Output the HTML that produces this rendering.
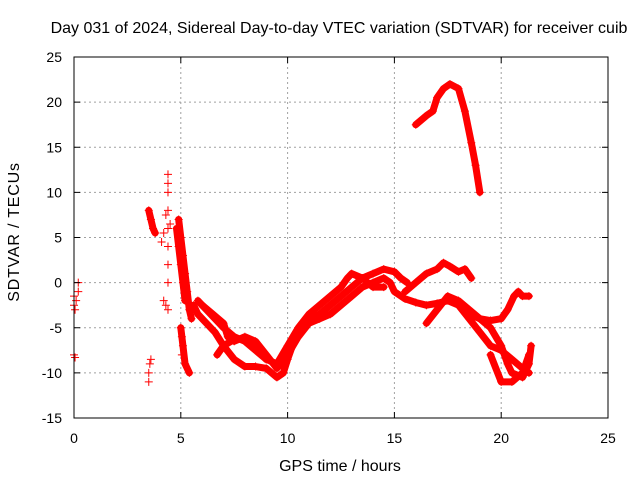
<!DOCTYPE html>
<html><head><meta charset="utf-8"><style>
body{margin:0;background:#fff;}
svg{display:block;font-family:"Liberation Sans",sans-serif;}
</style></head><body>
<svg id="chart" width="640" height="480">
<rect width="640" height="480" fill="#fff"/>
<text x="339" y="33" text-anchor="middle" font-size="16">Day 031 of 2024, Sidereal Day-to-day VTEC variation (SDTVAR) for receiver cuib</text>
<text x="340" y="471" text-anchor="middle" font-size="16">GPS time / hours</text>
<text transform="translate(19,232) rotate(-90)" text-anchor="middle" font-size="16" letter-spacing="0.8">SDTVAR / TECUs</text>
<g id="grid"></g><g id="marks"></g><g id="axes"></g>
</svg>
<script>
const xTicks=[0,5,10,15,20,25];
const yTicks=[25,20,15,10,5,0,-5,-10,-15];
const trackA=[[5.6,-2.5],[5.8,-3.5],[6.2,-4.5],[6.6,-5.5],[7,-7],[7.5,-8.5],[8,-9.3],[8.5,-9.3],[9,-9.5],[9.5,-10.5],[9.8,-10],[10,-8.5],[10.3,-6.5],[10.6,-5],[11,-4],[11.5,-3.5],[12,-2.5],[12.5,-1.5],[13,-0.5],[13.5,0.5],[14,1],[14.5,1.5],[15,1.2],[15.3,0.5],[15.6,0]];
const trackB=[[5.8,-2],[6.2,-3],[6.6,-4],[7,-5],[7.5,-6],[8,-6.5],[8.5,-7.5],[9,-8.5],[9.5,-9],[10,-7],[10.5,-5],[11,-3.5],[11.5,-2.5],[12,-1.5],[12.5,-0.5],[12.8,0.5],[13,1],[13.5,0.5],[14,-0.5],[14.5,-0.5]];
const trackC=[[6,-2.5],[6.5,-3.5],[7,-4.5],[7.2,-6],[7.5,-6.5],[8,-6],[8.5,-6.5],[9,-8],[9.5,-9.5],[10,-8],[10.5,-6],[11,-4.5],[11.5,-4],[12,-3.5],[12.5,-2.5],[13,-1.5],[13.5,-0.5],[14,0],[14.5,0.5],[14.8,0],[15,-1],[15.5,-1.8],[16,-2.2],[16.5,-2.5],[17,-2.3],[17.5,-2],[18,-2.5],[18.5,-4],[19,-5.5],[19.5,-7],[20,-7.5],[20.5,-8.5],[21,-9.5],[21.3,-10]];
const trackD=[[6.7,-8],[7,-7],[7.5,-6.3],[8,-6.2],[8.5,-6.6],[9,-8.5]];
const trackE=[[16,17.5],[16.5,18.5],[16.8,19],[17,20.5],[17.3,21.5],[17.6,22],[18,21.5],[18.3,19],[18.6,15.5],[18.8,13],[19,10]];
const trackF=[[16.5,-4.5],[17,-3],[17.5,-1.5],[18,-2],[18.5,-3],[19,-4],[19.5,-5],[20,-7],[20.3,-9],[20.5,-10],[21,-10.5],[21.3,-9],[21.4,-7]];
const trackG=[[15.5,-1],[16,0],[16.5,1],[17,1.5],[17.3,2.2],[17.6,1.8],[18,1.2],[18.3,1.5],[18.6,0.5]];
const trackH=[[18.5,-3.5],[19,-4],[19.5,-4.2],[20,-4],[20.3,-3],[20.6,-1.5],[20.8,-1],[21,-1.5],[21.3,-1.5]];
const trackI=[[19.5,-8],[20,-11],[20.5,-11],[21,-10],[21.3,-8]];
const trackJ=[[4.9,7],[5,5],[5.1,3],[5.2,1],[5.3,-1],[5.4,-3],[5.5,-4]];
const trackK=[[5,-5],[5.1,-7],[5.2,-9],[5.4,-10]];
const trackL=[[4.8,6],[4.9,4],[5,2],[5.1,0],[5.2,-2]];
const trackM=[[3.5,8],[3.6,7],[3.7,6],[3.8,5.5]];
const scatter=[[0,-1.5],[0,-2.5],[0,-8],[0.05,-3],[0.2,-1],[0.2,0],[0.1,-2],[0.05,-8.3],[3.5,-11],[3.5,-10],[3.55,-9],[3.6,-8.5],[4.1,4.5],[4.2,5.5],[4.3,7.5],[4.4,12],[4.4,11],[4.4,10],[4.4,8],[4.4,6],[4.4,4],[4.4,2],[4.4,0],[4.2,-2],[4.3,-2.5],[4.4,-3],[4.5,6.5],[5.05,-6],[5.05,-8]];
const X0=74,X1=608,Y0=418,Y1=57;
const xs=v=>X0+(v-0)/25*(X1-X0);
const ys=v=>Y0-(v+15)/40*(Y0-Y1);
const NS='http://www.w3.org/2000/svg';
function mk(t,a,p){const e=document.createElementNS(NS,t);for(const k in a)e.setAttribute(k,a[k]);p.appendChild(e);return e;}
const grid=document.getElementById('grid'),axes=document.getElementById('axes'),marks=document.getElementById('marks');
xTicks.forEach(t=>{const x=xs(t);
 if(t>0&&t<25){const g=mk('line',{x1:x,x2:x,y1:Y1,y2:Y0,stroke:'#a0a0a0','stroke-dasharray':'2,3'},grid);
 }
 mk('line',{x1:x,x2:x,y1:Y0,y2:Y0-6,stroke:'#000'},axes);mk('line',{x1:x,x2:x,y1:Y1,y2:Y1+6,stroke:'#000'},axes);
 const l=mk('text',{x:x,y:Y0+25,'text-anchor':'middle','font-size':14},axes);l.textContent=t;
 });
yTicks.forEach(t=>{const y=ys(t);
 if(t>-15&&t<25){const g=mk('line',{x1:X0,x2:X1,y1:y,y2:y,stroke:'#a0a0a0','stroke-dasharray':'2,3'},grid);
 }
 mk('line',{x1:X0,x2:X0+6,y1:y,y2:y,stroke:'#000'},axes);mk('line',{x1:X1,x2:X1-6,y1:y,y2:y,stroke:'#000'},axes);
 const l=mk('text',{x:X0-12,y:y+5,'text-anchor':'end','font-size':14},axes);l.textContent=t;
 });
const frame=mk('rect',{x:X0,y:Y1,width:X1-X0,height:Y0-Y1,fill:'none',stroke:'#000'},axes);

function plus(p){const x=xs(p[0]),y=ys(p[1]);
 const e=mk('path',{d:`M${x-4},${y}H${x+4}M${x},${y-4}V${y+4}`,stroke:'#f00','stroke-width':1},marks);
 }
[trackA,trackB,trackC,trackD,trackE,trackF,trackG,trackH,trackI,trackJ,trackK,trackL,trackM].forEach(tr=>{
 const pl=mk('polyline',{points:tr.map(p=>xs(p[0])+','+ys(p[1])).join(' '),fill:'none',stroke:'#f00','stroke-width':7,'stroke-linejoin':'round','stroke-linecap':'round'},marks);
 
 tr.forEach(plus);});
scatter.forEach(plus);
</script>
</body></html>
